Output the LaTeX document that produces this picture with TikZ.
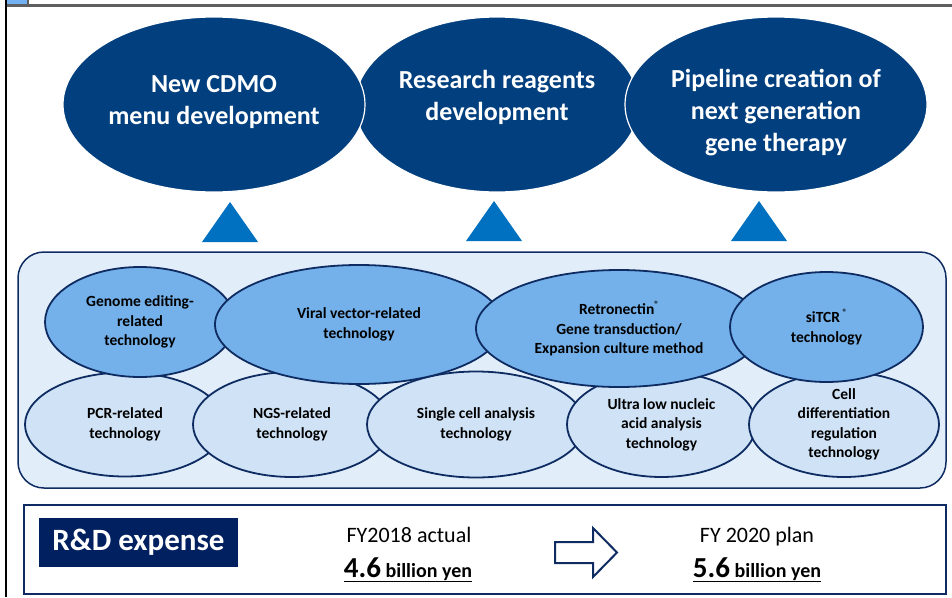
\documentclass[tikz,border=0pt]{standalone}
\usepackage{fontspec}
\setmainfont{Carlito}
\usetikzlibrary{shapes.geometric,positioning}

\definecolor{deepblue}{HTML}{023F7E}
\definecolor{triblue}{HTML}{0070C0}
\definecolor{paleblue}{HTML}{E1EEFA}
\definecolor{midblue}{HTML}{74B1EA}
\definecolor{lightblue}{HTML}{D0E3F6}
\definecolor{edgeblue}{HTML}{0F2C62}
\definecolor{navy}{HTML}{002060}
\definecolor{framegray}{HTML}{5F5F5F}
\definecolor{tabblue}{HTML}{72B2F2}

\newcommand{\regmark}{\raisebox{1.0ex}{\fontsize{9}{9}\selectfont ®}}

\begin{document}
\begin{tikzpicture}[x=1pt,y=-1pt,on grid,
   goal/.style={ellipse,fill=deepblue,draw=white,line width=1.2pt,inner sep=0pt},
   goaltext/.style={text=white,align=center,font=\bfseries\fontsize{26}{32}\selectfont},
   core/.style={ellipse,fill=midblue,draw=edgeblue,line width=1.8pt,inner sep=0pt,
                align=center,font=\bfseries\fontsize{15.5}{19.5}\selectfont},
   tool/.style={core,fill=lightblue},
   support/.style={fill=triblue},
   figure/.style={anchor=base,font=\bfseries\fontsize{20}{24}\selectfont}]
   \useasboundingbox (0,0) rectangle (952,597);
   % frame of the slide
   \fill[framegray] (7,4) rectangle (952,7);
   \fill[tabblue] (7,0) rectangle (28,4);
   \draw[framegray,line width=2pt] (28,0) -- (28,5);
   \draw[black,line width=2pt] (6,0) -- (6,597);
   % goals
   \node[goal,minimum width=284pt,minimum height=175pt] (rea) at (497,104.5)
        [label={[goaltext,yshift=7.5pt]center:Research reagents\\development}] {};
   \node[goal,minimum width=302pt,minimum height=175pt] (cdmo) [left=283pt of rea]
        [label={[goaltext,yshift=2.5pt]center:New CDMO\\menu development}] {};
   \node[goal,minimum width=302pt,minimum height=175pt] (pipe) [right=279pt of rea]
        [label={[goaltext,yshift=-8.5pt]center:Pipeline creation of\\next generation\\gene therapy}] {};
   \fill[support] (230,202) -- (258,242) -- (202,242) -- cycle;
   \fill[support] (494,201) -- (522,241) -- (466,241) -- cycle;
   \fill[support] (759,201) -- (787,241) -- (731,241) -- cycle;
   % technology platform
   \draw[fill=paleblue,draw=edgeblue,line width=1.5pt,rounded corners=26pt] (18,252) rectangle (946,488);
   \node[tool,minimum width=200pt,minimum height=104pt] (pcr) at (125,424.5) {PCR-related\\technology};
   \node[tool,minimum width=198pt,minimum height=105pt] (ngs) [right=167pt of pcr] {NGS-related\\technology};
   \node[tool,minimum width=218pt,minimum height=106pt] (single) [right=184pt of ngs] {Single cell analysis\\technology};
   \node[tool,minimum width=189pt,minimum height=105pt] (ultra) [right=185.5pt of single] {Ultra low nucleic\\acid analysis\\technology};
   \node[tool,minimum width=190pt,minimum height=105pt] (celldiff) [right=182.5pt of ultra] {Cell\\differentiation\\regulation\\technology};
   \node[core,minimum width=190pt,minimum height=110pt] (genome) at (140,322) {Genome editing-\\related\\technology};
   \node[core,minimum width=288pt,minimum height=119pt] (viral) at (359,324.5) {Viral vector-related\\technology};
   \node[core,minimum width=286pt,minimum height=117pt] (retro) at (619,328.5) {Retronectin\regmark\\Gene transduction/\\Expansion culture method};
   \node[core,minimum width=193pt,minimum height=110pt] (sitcr) at (826.5,327) {siTCR\,\regmark\\technology};
   % R&D expense
   \draw[edgeblue,line width=2.5pt] (24,505) rectangle (946,594);
   \node[fill=navy,text=white,minimum width=199pt,minimum height=49pt,
         font=\bfseries\fontsize{31}{36}\selectfont] (rd) at (138.5,542.5) {R\&D expense};
   \node[anchor=base,font=\fontsize{22}{26}\selectfont] (act18) at (409,542) {FY2018 actual};
   \node[figure] (val18) at (408,577) {\underline{{\fontsize{29}{34}\selectfont 4.6} billion yen}};
   \node[anchor=base,font=\fontsize{22}{26}\selectfont] (plan20) at (757,542) {FY 2020 plan};
   \node[figure] (val20) at (757,577) {\underline{{\fontsize{29}{34}\selectfont 5.6} billion yen}};
   \draw[edgeblue,fill=white,line width=2pt] (555,542) -- (593,542) -- (593,528) -- (617,552.5)
        -- (593,577) -- (593,563) -- (555,563) -- cycle;
\end{tikzpicture}
\end{document}
